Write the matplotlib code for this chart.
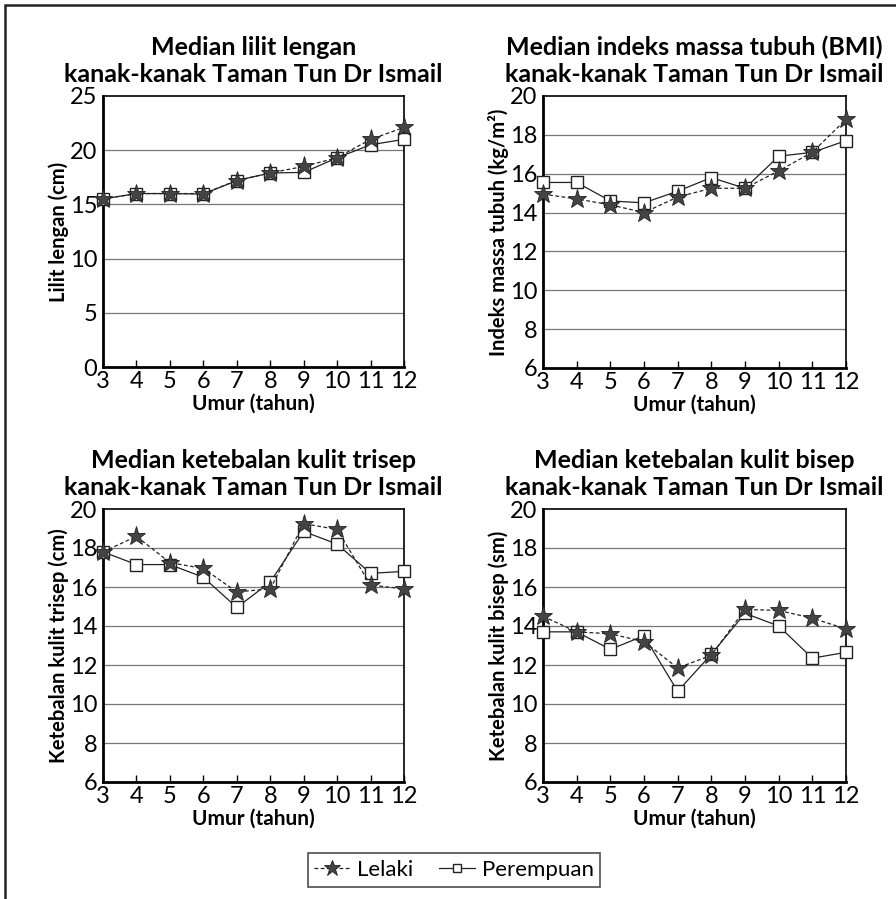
import numpy as np
import matplotlib
matplotlib.use('Agg')
import matplotlib.pyplot as plt
from matplotlib.patches import Rectangle
from matplotlib.lines import Line2D

plt.rcParams['font.family'] = ['Lato', 'DejaVu Sans']

# Ages
umur = [3, 4, 5, 6, 7, 8, 9, 10, 11, 12]

# Lilit lengan (cm)
lilit_lelaki = [15.5, 16.0, 16.0, 16.0, 17.2, 17.9, 18.5, 19.3, 21.0, 22.1]
lilit_perempuan = [15.5, 16.0, 16.0, 15.95, 17.2, 17.9, 17.95, 19.3, 20.5, 21.0]

# BMI (kg/m2)
bmi_lelaki = [14.95, 14.7, 14.4, 14.0, 14.8, 15.25, 15.25, 16.15, 17.1, 18.8]
bmi_perempuan = [15.55, 15.55, 14.6, 14.5, 15.1, 15.8, 15.25, 16.9, 17.1, 17.7]

# Ketebalan kulit trisep
trisep_lelaki = [17.8, 18.6, 17.25, 16.95, 15.75, 15.9, 19.25, 18.95, 16.1, 15.9]
trisep_perempuan = [17.8, 17.15, 17.15, 16.5, 14.95, 16.25, 18.85, 18.2, 16.7, 16.8]

# Ketebalan kulit bisep
bisep_lelaki = [14.5, 13.7, 13.6, 13.2, 11.85, 12.5, 14.85, 14.8, 14.4, 13.85]
bisep_perempuan = [13.7, 13.7, 12.8, 13.5, 10.65, 12.55, 14.65, 14.0, 12.35, 12.65]

panels = [
    dict(title='Median lilit lengan\nkanak-kanak Taman Tun Dr Ismail',
         ylabel='Lilit lengan (cm)', lel=lilit_lelaki, per=lilit_perempuan,
         ylim=(0, 25), yticks=[0, 5, 10, 15, 20, 25],
         rect=[103 / 896, 1 - 367 / 899, 301 / 896, 271 / 899]),
    dict(title='Median indeks massa tubuh (BMI)\nkanak-kanak Taman Tun Dr Ismail',
         ylabel='Indeks massa tubuh (kg/m²)', lel=bmi_lelaki, per=bmi_perempuan,
         ylim=(6, 20), yticks=[6, 8, 10, 12, 14, 16, 18, 20],
         rect=[543 / 896, 1 - 368 / 899, 303 / 896, 272 / 899]),
    dict(title='Median ketebalan kulit trisep\nkanak-kanak Taman Tun Dr Ismail',
         ylabel='Ketebalan kulit trisep (cm)', lel=trisep_lelaki, per=trisep_perempuan,
         ylim=(6, 20), yticks=[6, 8, 10, 12, 14, 16, 18, 20],
         rect=[103 / 896, 1 - 782 / 899, 301 / 896, 273 / 899]),
    dict(title='Median ketebalan kulit bisep\nkanak-kanak Taman Tun Dr Ismail',
         ylabel='Ketebalan kulit bisep (sm)', lel=bisep_lelaki, per=bisep_perempuan,
         ylim=(6, 20), yticks=[6, 8, 10, 12, 14, 16, 18, 20],
         rect=[543 / 896, 1 - 782 / 899, 303 / 896, 273 / 899]),
]

fig = plt.figure(figsize=(8.96, 8.99), dpi=100)

# outer frame
fig.patches.append(Rectangle((5 / 896, -0.05), 1.0, 1.05 - 5 / 899, transform=fig.transFigure,
                             fill=False, edgecolor='#222222', linewidth=1.8))

for p in panels:
    ax = fig.add_axes(p['rect'])
    ax.plot(umur, p['per'], color='#222222', lw=0.9, ls='-', marker='s', ms=8,
            mfc='white', mec='#222222', mew=1.0, zorder=3, clip_on=False)
    ax.plot(umur, p['lel'], color='#222222', lw=0.9, ls=(0, (3, 2)), marker='*', ms=14,
            mfc='#444444', mec='#222222', mew=0.6, zorder=4, clip_on=False)
    ax.set_xlim(3, 12)
    ax.set_ylim(*p['ylim'])
    ax.set_xticks(umur)
    ax.set_yticks(p['yticks'])
    for y in p['yticks'][1:-1]:
        ax.axhline(y, color='#777777', lw=0.9, zorder=1)
    for s in ['left', 'bottom']:
        ax.spines[s].set_linewidth(2.0)
    for s in ['right', 'top']:
        ax.spines[s].set_linewidth(1.2)
    ax.tick_params(axis='x', direction='in', length=5, width=1, labelsize=17, pad=3)
    ax.tick_params(axis='y', length=0, labelsize=17, pad=4)
    ax.set_xlabel('Umur (tahun)', fontsize=15, fontweight='bold', labelpad=1)
    ax.set_ylabel(p['ylabel'], fontsize=14.5, fontweight='bold', labelpad=1)
    ax.set_title(p['title'], fontsize=18, fontweight='bold', pad=10, linespacing=1.2)

handles = [
    Line2D([], [], color='#222222', lw=0.9, ls=(0, (3, 2)), marker='*', ms=12,
           mfc='#444444', mec='#222222', mew=0.6),
    Line2D([], [], color='#222222', lw=0.9, ls='-', marker='s', ms=6,
           mfc='white', mec='#222222', mew=1.0),
]
fig.legend(handles, ['Lelaki', 'Perempuan'], loc='center', bbox_to_anchor=(454 / 896, 1 - 870 / 899),
           ncol=2, fontsize=16, frameon=True, fancybox=False, edgecolor='#222222',
           handlelength=1.6, handletextpad=0.3, columnspacing=1.2, borderpad=0.3)
fig.legends[0].get_frame().set_linewidth(1.2)

fig.savefig('out.png', dpi=100)
